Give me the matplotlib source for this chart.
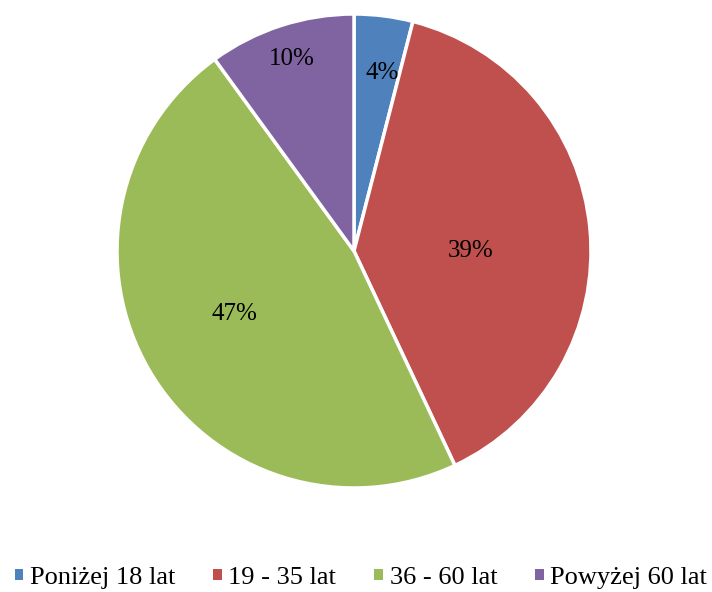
import matplotlib.pyplot as plt
from matplotlib.patches import Patch
import numpy as np

categories = ['Poniżej 18 lat', '19 - 35 lat', '36 - 60 lat', 'Powyżej 60 lat']
values = [4, 39, 47, 10]
colors = ['#4F81BD', '#C0504D', '#9BBB59', '#8064A2']
# polozenie etykiet jak w oryginale: kat od gory (zgodnie z zegarem) i odleglosc od srodka
label_ang = [9, 90, 242, 342]
label_dist = [0.76, 0.49, 0.57, 0.85]

plt.rcParams['font.family'] = ['Liberation Serif', 'DejaVu Serif']

fig = plt.figure(figsize=(7.12, 5.92), dpi=100)
cx, cy, r = 354, 251, 237
ax = fig.add_axes([(cx - r) / 712, 1 - (cy + r) / 592, 2 * r / 712, 2 * r / 592])

wedges, texts = ax.pie(values, colors=colors, startangle=90, counterclock=False,
                       wedgeprops=dict(edgecolor='white', linewidth=2.5))
ax.set_aspect('equal')
ax.set_xlim(-1, 1)
ax.set_ylim(-1, 1)

for v, a, d in zip(values, label_ang, label_dist):
    ang = np.deg2rad(90 - a)
    ax.text(d * np.cos(ang), d * np.sin(ang), f'{v}%', ha='center', va='center', fontsize=18)

handles = [Patch(facecolor=c, edgecolor='none') for c in colors]
fig.legend(handles, categories, loc='center', bbox_to_anchor=(0.507, 1 - 578 / 592), ncol=4,
           frameon=False, fontsize=19, handlelength=0.32, handleheight=0.32,
           handletextpad=0.25, columnspacing=1.45, borderaxespad=0, borderpad=0)

fig.savefig('out.png', dpi=100)
